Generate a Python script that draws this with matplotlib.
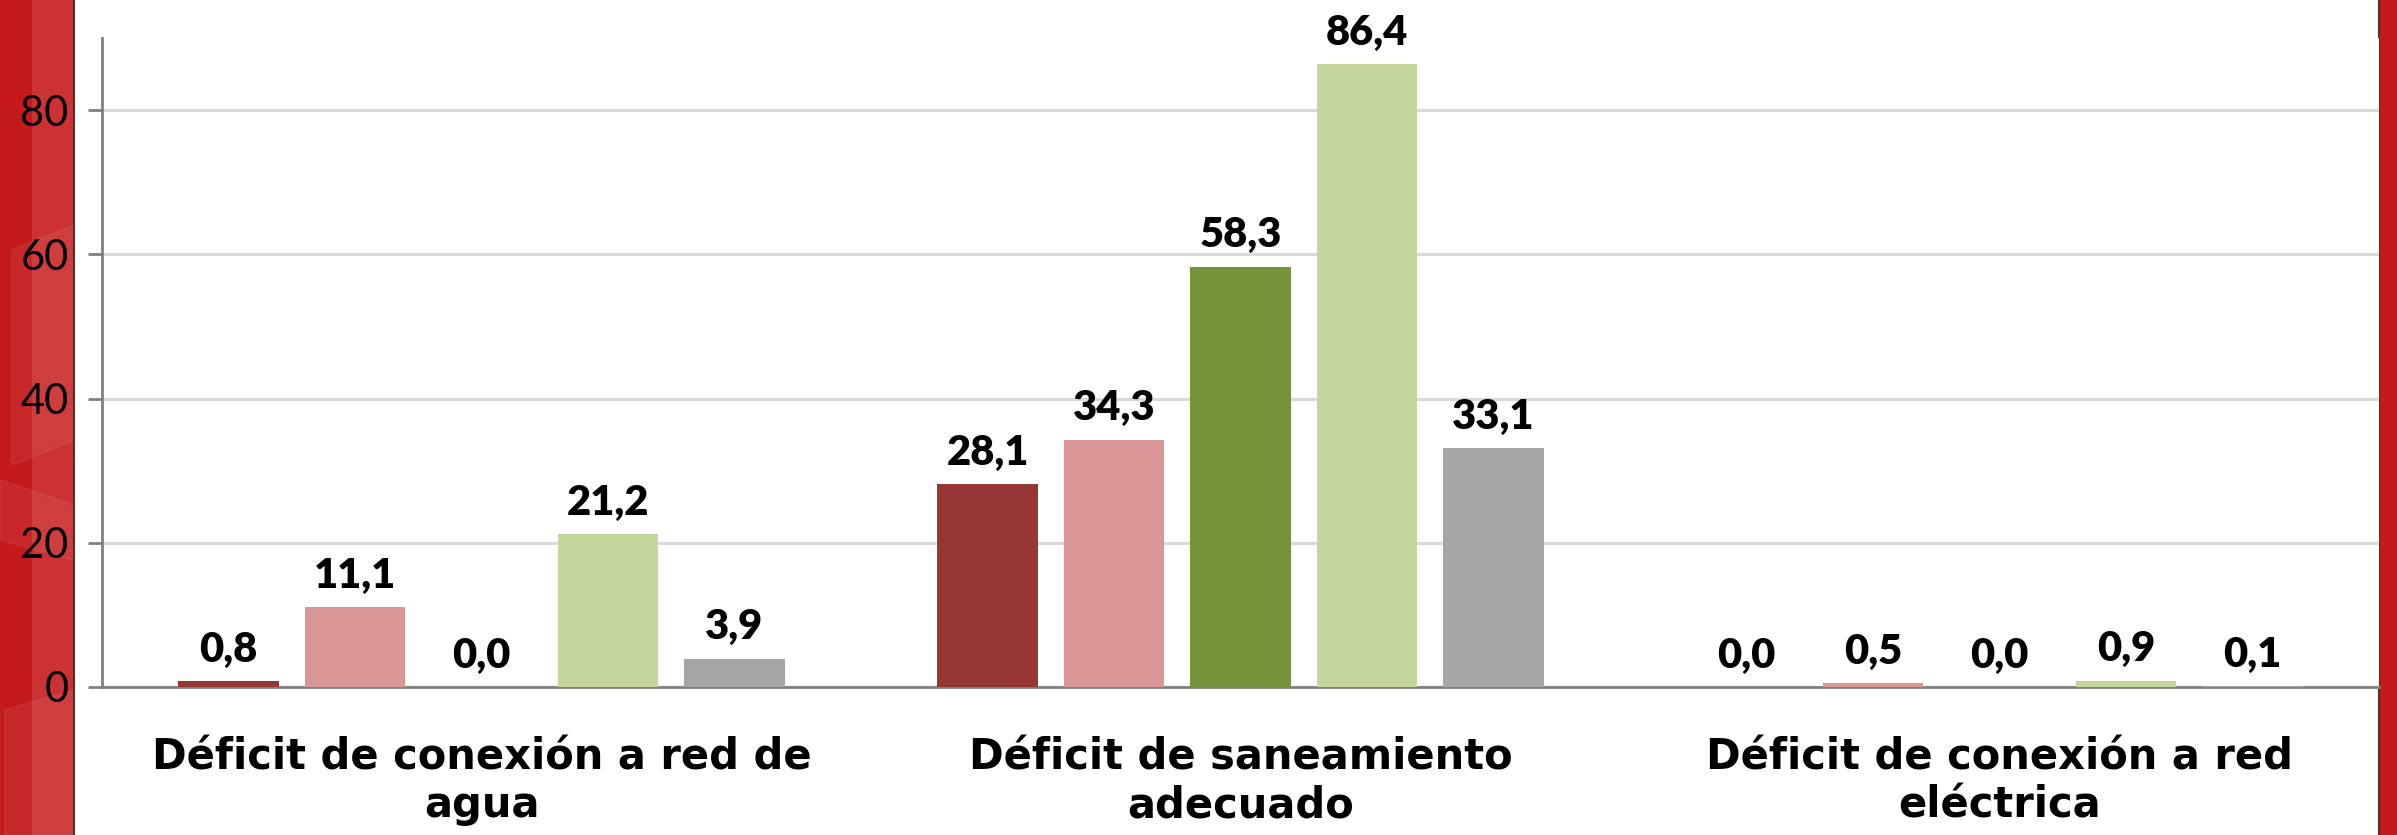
import matplotlib
matplotlib.use("Agg")
import matplotlib.pyplot as plt
import numpy as np
from matplotlib.patches import Rectangle, Polygon

categories = ["Déficit de conexión a red de\nagua",
              "Déficit de saneamiento\nadecuado",
              "Déficit de conexión a red\neléctrica"]
series_names = ["Serie 1", "Serie 2", "Serie 3", "Serie 4", "Serie 5"]
serie1 = [0.8, 28.1, 0.0]
serie2 = [11.1, 34.3, 0.5]
serie3 = [0.0, 58.3, 0.0]
serie4 = [21.2, 86.4, 0.9]
serie5 = [3.9, 33.1, 0.1]
series_values = [serie1, serie2, serie3, serie4, serie5]
colors = ["#953735", "#d99694", "#77933c", "#c3d69b", "#a6a6a6"]
yticks = [0, 20, 40, 60, 80]

W, H, DPI = 2397, 835, 100
fig = plt.figure(figsize=(W / DPI, H / DPI), dpi=DPI)
fig.patch.set_facecolor("white")

# decorative red side panels
def px(x0, y0, w, h):
    return (x0 / W, 1 - (y0 + h) / H, w / W, h / H)

for (x0, w, c) in [(0, 32, "#c41a1c"), (32, 42, "#cc3234"), (2379, 18, "#c41a1c")]:
    x, y, ww, hh = px(x0, 0, w, H)
    fig.patches.append(Rectangle((x, y), ww, hh, transform=fig.transFigure,
                                 facecolor=c, edgecolor="none", zorder=0))
# faint hexagon-like overlays
polys = [
    [(12, 250), (74, 225), (74, 440), (12, 465)],
    [(0, 480), (74, 505), (74, 560), (0, 540)],
    [(5, 710), (74, 690), (74, 835), (5, 835)],
]
for p in polys:
    fig.patches.append(Polygon([(x / W, 1 - y / H) for x, y in p], closed=True,
                               transform=fig.transFigure, facecolor="white",
                               edgecolor="white", alpha=0.06, lw=1.5, zorder=0))
for (xa, ya, xb, yb) in [(0, 410, 74, 445), (0, 470, 74, 445), (0, 690, 74, 705),
                         (0, 765, 74, 785), (2379, 150, 2397, 160), (2379, 660, 2397, 650)]:
    fig.lines.append(plt.Line2D([xa / W, xb / W], [1 - ya / H, 1 - yb / H],
                                transform=fig.transFigure, color="white",
                                alpha=0.25, lw=1.2, zorder=0))
for xl in [74, 2379]:
    fig.lines.append(plt.Line2D([xl / W, xl / W], [0, 1], transform=fig.transFigure,
                                color="#3a3a3a", lw=1.5, zorder=1))

ax = fig.add_axes([102 / W, 1 - 687 / H, (2379 - 102) / W, (687 - 38) / H])
ax.set_facecolor("white")
ax.set_zorder(3)

x = np.arange(len(categories))
step = 1 / 6
width = 0.133
for i, (name, vals, c) in enumerate(zip(series_names, series_values, colors)):
    pos = x + (i - 2) * step
    bars = ax.bar(pos, vals, width, color=c, label=name, zorder=3)
    for b, v in zip(bars, vals):
        ax.annotate(f"{v:.1f}".replace(".", ","),
                    (b.get_x() + b.get_width() / 2, v),
                    xytext=(0, 14), textcoords="offset points",
                    ha="center", va="baseline", fontsize=30,
                    fontweight="heavy", family="Lato", color="black", zorder=4)

ax.set_xlim(-0.5, 2.5)
ax.set_ylim(0, 90)
ax.set_yticks(yticks)
ax.set_yticklabels([str(t) for t in yticks], family="Lato", fontsize=30)
ax.yaxis.grid(True, color="#d9d9d9", lw=2.2, zorder=0)
ax.set_axisbelow(True)

ax.set_xticks(x)
ax.set_xticklabels(categories, family="DejaVu Sans", fontweight="bold", fontsize=30,
                   linespacing=1.16)
ax.tick_params(axis="x", length=0, pad=36)
ax.tick_params(axis="y", length=10, width=2, color="#808080", pad=14, direction="out")

for s in ["top", "right"]:
    ax.spines[s].set_visible(False)
for s in ["left", "bottom"]:
    ax.spines[s].set_color("#808080")
    ax.spines[s].set_linewidth(2)

fig.savefig("out.png", dpi=DPI, facecolor=fig.get_facecolor())
